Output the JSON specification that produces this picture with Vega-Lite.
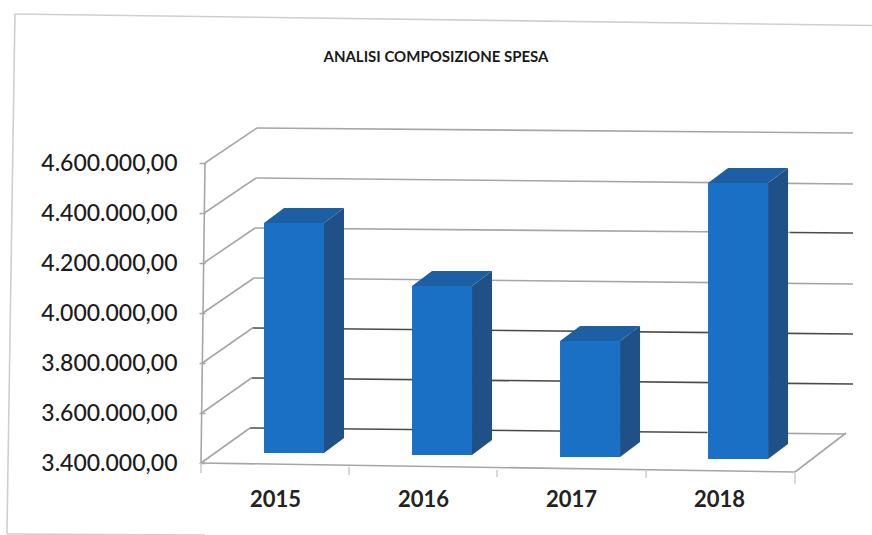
{
"$schema":"https://vega.github.io/schema/vega-lite/v6.json",
"width":648,"height":383,"autosize":"none",
"padding":{"left":205,"top":80,"right":19,"bottom":72},
"background":"#ffffff",
"title":{"text":"ANALISI COMPOSIZIONE SPESA","font":"Lato","fontSize":15,"fontWeight":"bold","color":"#1a1a1a","anchor":"middle","dx":-93,"offset":-52},
"config":{"view":{"stroke":null}},
"datasets":{
"bars":[{"year":2015,"value":4332000,"base":3412000},{"year":2016,"value":4080000,"base":3404000},{"year":2017,"value":3860000,"base":3396000},{"year":2018,"value":4492000,"base":3388000}],
"lines":[
{"x1":2014.851,"x2":2018.878,"v1":4740000,"v2":4720000,"kind":"grid"},
{"x1":2014.845,"x2":2018.878,"v1":4540000,"v2":4516000,"kind":"grid"},
{"x1":2014.838,"x2":2018.453,"v1":4340000,"v2":4322000,"kind":"grid"},
{"x1":2018.453,"x2":2018.878,"v1":4322000,"v2":4320000,"kind":"dark"},
{"x1":2014.831,"x2":2018.878,"v1":4140000,"v2":4116000,"kind":"grid"},
{"x1":2014.821,"x2":2018.878,"v1":3940000,"v2":3916000,"kind":"dark"},
{"x1":2014.814,"x2":2018.878,"v1":3740000,"v2":3716000,"kind":"dark"},
{"x1":2014.804,"x2":2017.892,"v1":3540000,"v2":3522000,"kind":"dark"},
{"x1":2017.892,"x2":2018.831,"v1":3522000,"v2":3516000,"kind":"grid"},
{"x1":2014.5,"x2":2014.851,"v1":4600000,"v2":4740000,"kind":"grid"},
{"x1":2014.495,"x2":2014.845,"v1":4400000,"v2":4540000,"kind":"grid"},
{"x1":2014.491,"x2":2014.838,"v1":4200000,"v2":4340000,"kind":"grid"},
{"x1":2014.486,"x2":2014.831,"v1":4000000,"v2":4140000,"kind":"grid"},
{"x1":2014.482,"x2":2014.821,"v1":3800000,"v2":3940000,"kind":"grid"},
{"x1":2014.478,"x2":2014.814,"v1":3600000,"v2":3740000,"kind":"grid"},
{"x1":2014.473,"x2":2014.804,"v1":3400000,"v2":3540000,"kind":"grid"},
{"x1":2014.473,"x2":2014.5,"v1":3400000,"v2":4600000,"kind":"grid"},
{"x1":2014.473,"x2":2018.486,"v1":3400000,"v2":3364000,"kind":"grid"},
{"x1":2018.486,"x2":2018.831,"v1":3364000,"v2":3520000,"kind":"grid"},
{"x1":2018.486,"x2":2018.486,"v1":3364000,"v2":3316000,"kind":"frame"},
{"x1":2014.473,"x2":2014.473,"v1":3400000,"v2":3360000,"kind":"frame"},
{"x1":2015.473,"x2":2015.473,"v1":3384000,"v2":3352000,"kind":"frame"},
{"x1":2016.473,"x2":2016.473,"v1":3372000,"v2":3344000,"kind":"frame"},
{"x1":2017.48,"x2":2017.48,"v1":3368000,"v2":3340000,"kind":"frame"},
{"x1":2013.216,"x2":2019.007,"v1":5196000,"v2":5150000,"kind":"frame"},
{"x1":2013.216,"x2":2013.162,"v1":5196000,"v2":3116000,"kind":"frame"},
{"x1":2013.162,"x2":2014.5,"v1":3116000,"v2":3112000,"kind":"frame"}
]},
"layer":[
{"data":{"name":"lines"},"mark":{"type":"rule","strokeWidth":1.6},
 "encoding":{
  "x":{"field":"x1","type":"quantitative","scale":{"domain":[2014.5,2018.878],"nice":false,"zero":false,"padding":0},"title":null,
   "axis":{"values":[2015,2016,2017,2018],"format":"d","domain":false,"ticks":false,"grid":false,"labelFont":"Lato","labelFontSize":22,"labelFontWeight":"bold","labelColor":"#222222","labelPadding":26,"labelOffset":-4}},
  "x2":{"field":"x2"},
  "y":{"field":"v1","type":"quantitative","scale":{"domain":[3400000,4932000],"nice":false,"zero":false},"title":null,
   "axis":{"values":[3400000,3600000,3800000,4000000,4200000,4400000,4600000],"domain":false,"grid":false,"tickSize":6,"tickColor":"#a6a6a6","tickWidth":1.5,"labelFont":"Lato","labelFontSize":23,"labelFontWeight":500,"labelColor":"#1c1c1c","labelPadding":22,"labelExpr":"replace(replace(replace(format(datum.value,',.2f'),/,/g,'#'),'.',','),/#/g,'.')"}},
  "y2":{"field":"v2"},
  "color":{"field":"kind","type":"nominal","legend":null,"scale":{"domain":["grid","dark","frame"],"range":["#a6a6a6","#4a4a4a","#cfcfcf"]}}
 }},
{"data":{"name":"bars"},"mark":{"type":"bar","size":20,"xOffset":55,"yOffset":-7,"y2Offset":-22,"color":"#1f5088"},
 "encoding":{
  "x":{"field":"year","type":"quantitative"},
  "y":{"field":"value","type":"quantitative"},
  "y2":{"field":"base"}
 }},
{"data":{"name":"bars"},"mark":{"type":"point","filled":true,"opacity":1,"strokeWidth":0,"size":10000,"xOffset":15,"yOffset":-7,"color":"#1f5088","shape":"M0.6,0 L1,-0.3 L1,0 Z"},
 "encoding":{"x":{"field":"year","type":"quantitative"},"y":{"field":"value","type":"quantitative"}}},
{"data":{"name":"bars"},"mark":{"type":"point","filled":true,"opacity":1,"strokeWidth":0,"size":10000,"xOffset":15,"yOffset":-7,"color":"#1f5088","shape":"M0.6,0 L1,-0.3 L0.6,-0.3 Z"},
 "encoding":{"x":{"field":"year","type":"quantitative"},"y":{"field":"base","type":"quantitative"}}},
{"data":{"name":"bars"},"mark":{"type":"bar","size":60,"xOffset":15,"yOffset":-7,"y2Offset":-7,"color":"#1a70c4"},
 "encoding":{"x":{"field":"year","type":"quantitative"},"y":{"field":"value","type":"quantitative"},"y2":{"field":"base"}}},
{"data":{"name":"bars"},"mark":{"type":"point","filled":true,"opacity":1,"strokeWidth":0,"size":10000,"xOffset":15,"yOffset":-7,"color":"#1c5fa3","shape":"M-0.6,0 L-0.2,-0.3 L1,-0.3 L0.6,0 Z"},
 "encoding":{"x":{"field":"year","type":"quantitative"},"y":{"field":"value","type":"quantitative"}}}
]
}
